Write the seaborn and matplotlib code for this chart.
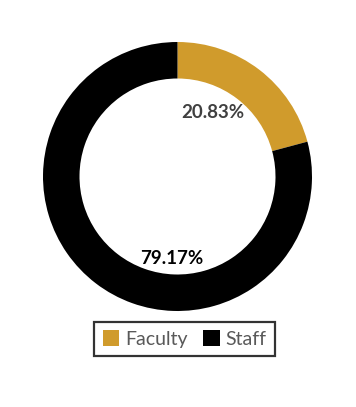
import matplotlib
matplotlib.use("Agg")
import matplotlib.pyplot as plt
from matplotlib.patches import Patch
import seaborn as sns

categories = ["Faculty", "Staff"]
values = [20.83, 79.17]
labels = ["20.83%", "79.17%"]
colors = ["#D09B2C", "#000000"]
label_colors = ["#404040", "#000000"]

sns.set_style("white")
plt.rcParams['font.family'] = ['Lato', 'DejaVu Sans']

W, H = 356, 407
fig = plt.figure(figsize=(W / 100, H / 100), dpi=100)
ax = fig.add_axes([0, 0, 1, 1])
cx, cy = 177.5, H - 176.5
R = 134.5
wedges, _ = ax.pie(values, colors=colors, startangle=90, counterclock=False,
                   radius=R, center=(cx, cy),
                   wedgeprops=dict(width=R - 98, linewidth=0))
ax.set_xlim(0, W)
ax.set_ylim(0, H)
ax.set_aspect('equal')
ax.axis('off')

label_pos = [(213, H - 113), (172, H - 258)]
for (x, y), t, c in zip(label_pos, labels, label_colors):
    ax.text(x, y, t, ha='center', va='center', fontsize=13.5, fontweight='bold', color=c)

handles = [Patch(facecolor=c, edgecolor='none', label=l) for c, l in zip(colors, categories)]
leg = fig.legend(handles=handles, loc='center', bbox_to_anchor=(184.5 / W, 1 - 339 / H),
                 ncol=2, frameon=True, fancybox=False, fontsize=14,
                 handlelength=0.85, handleheight=0.85, handletextpad=0.3, columnspacing=0.8,
                 borderpad=0.45, labelcolor='#595959')
leg.get_frame().set_edgecolor('black')
leg.get_frame().set_linewidth(1.6)

fig.savefig("out.png", dpi=100, facecolor='white')
